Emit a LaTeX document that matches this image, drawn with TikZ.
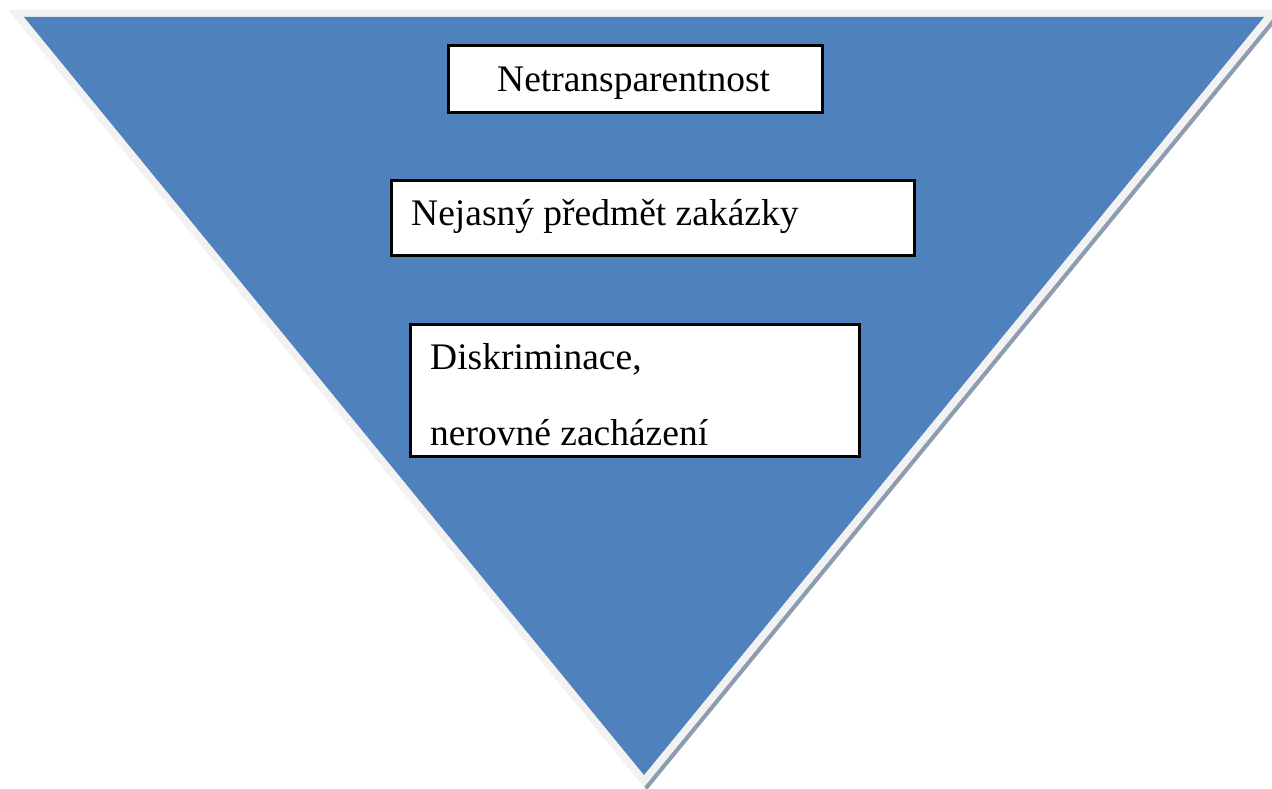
\documentclass[tikz,border=0pt]{standalone}
\usepackage{fontspec}
\setmainfont{Liberation Serif}
\definecolor{triblue}{HTML}{4F81BD}
\definecolor{trigray}{HTML}{F2F2F2}
\definecolor{trishadow}{HTML}{8E9CB0}
\begin{document}
\begin{tikzpicture}[x=1pt,y=-1pt,
  box/.style={draw=black,line width=2.6pt,fill=white,rectangle,inner sep=0pt},
  label/.style={inner sep=0pt,anchor=base west,font=\fontsize{37.5}{45}\selectfont}]
\useasboundingbox (0,0) rectangle (1272,789);
\clip (0,0) rectangle (1272,789);
% shadow
\fill[trishadow] (11.4,13) -- (1282.7,13) -- (647,790) -- cycle;
% light border triangle
\fill[trigray] (8.4,10) -- (1279.7,10) -- (644,787) -- cycle;
% blue triangle
\fill[triblue] (24,17) -- (1264,17) -- (644,775) -- cycle;
% boxes
\node[box,minimum width=374.4pt,minimum height=67.4pt] (b1) at (635.5,79) {};
\node[box,minimum width=523.4pt,minimum height=75.4pt] (b2) at (653,218) {};
\node[box,minimum width=449.4pt,minimum height=132.4pt] (b3) at (635,390.5) {};
% texts
\node[label] (t1) at (497,91.7) {Netransparentnost};
\node[label] (t2) at (411,225) {Nejasný předmět zakázky};
\node[label] (t3) at (430,369.7) {Diskriminace,};
\node[label] (t4) at (430,445.3) {nerovné zacházení};
\end{tikzpicture}
\end{document}
